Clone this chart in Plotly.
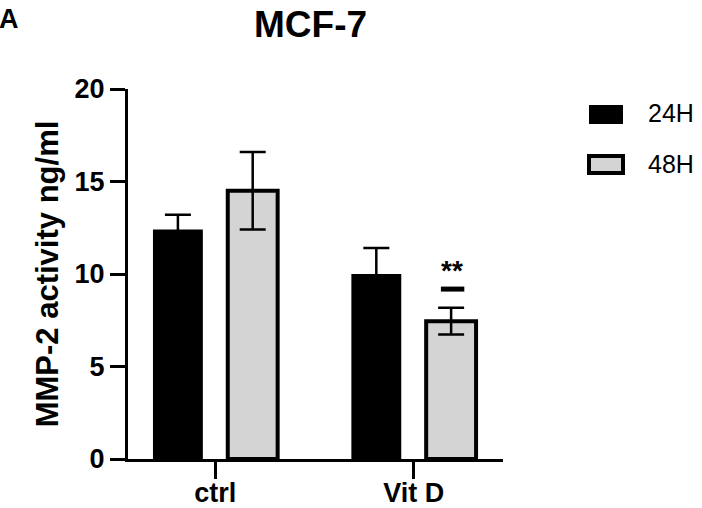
import plotly.graph_objects as go

categories = ["ctrl", "Vit D"]
series_names = ["24H", "48H"]
mean_24h = [12.4, 10.0]
err_24h = [0.8, 1.4]
mean_48h = [14.5, 7.45]
err_48h = [2.1, 0.72]
y_ticks = [0, 5, 10, 15, 20]
series_colors = ["black", "#d4d4d4"]

FONT = "Liberation Sans, Arial, sans-serif"

# plot-area geometry (pixels)
L, R, T, B = 128, 199, 89, 49
W, H = 702, 508
PW, PH = W - L - R, H - T - B


def px(xp):
    return (xp - L) / PW


def py(yp):
    return (H - B - yp) / PH


fig = go.Figure()
fig.add_trace(go.Bar(
    x=categories, y=mean_24h, name=series_names[0],
    marker=dict(color=series_colors[0], line=dict(color="black", width=0)),
    error_y=dict(type="data", array=err_24h, visible=True, color="black", thickness=2.5, width=13),
))
fig.add_trace(go.Bar(
    x=categories, y=mean_48h, name=series_names[1],
    marker=dict(color=series_colors[1], line=dict(color="black", width=4)),
    error_y=dict(type="data", array=err_48h, visible=True, color="black", thickness=2.5, width=13),
))

fig.update_layout(
    width=W, height=H,
    margin=dict(l=L, r=R, t=T, b=B, autoexpand=False),
    paper_bgcolor="white", plot_bgcolor="white",
    barmode="group", bargap=0.246, bargroupgap=0.333,
    showlegend=False,
    font=dict(family=FONT, color="black"),
)
fig.update_xaxes(
    range=[-0.44, 1.45], showline=True, linewidth=3, linecolor="black",
    ticks="outside", ticklen=17, tickwidth=3, tickcolor="black",
    tickfont=dict(size=27, family=FONT, weight="bold"), ticklabelstandoff=-9,
    showgrid=False, zeroline=False, automargin=False,
)
fig.update_yaxes(
    range=[0, 20], tickvals=y_ticks, showline=True, linewidth=3, linecolor="black",
    ticks="outside", ticklen=15, tickwidth=3, tickcolor="black",
    tickfont=dict(size=27, family=FONT, weight="bold"),
    showgrid=False, zeroline=False, automargin=False,
    title=dict(text="MMP-2 activity ng/ml", font=dict(size=31, family=FONT, weight="bold"), standoff=7),
)

# Significance marks above Vit D 48H bar
top = mean_48h[1] + err_48h[1]
fig.add_annotation(x="Vit D", y=top + 2.0, xref="x", yref="y", xshift=38,
                   text="<b>**</b>", showarrow=False, font=dict(size=28, family=FONT),
                   yanchor="middle")
fig.add_shape(type="rect", xref="x", yref="y", x0="Vit D", x1="Vit D",
              x0shift=0.137, x1shift=0.255, y0=top + 0.88, y1=top + 1.15,
              fillcolor="black", line=dict(width=0))

# Title and panel label
fig.add_annotation(x=px(310), y=py(2), xref="paper", yref="paper", text="<b>MCF-7</b>",
                   showarrow=False, xanchor="center", yanchor="top", font=dict(size=37, family=FONT))
fig.add_annotation(x=px(-3), y=py(2), xref="paper", yref="paper", text="<b>A</b>",
                   showarrow=False, xanchor="left", yanchor="top", font=dict(size=27, family=FONT))

# Custom legend
leg_boxes = [(105, 124), (156, 173)]
leg_text_y = [113, 164]
for i, name in enumerate(series_names):
    y0, y1 = leg_boxes[i]
    fig.add_shape(type="rect", xref="paper", yref="paper",
                  x0=px(589), x1=px(623), y0=py(y1), y1=py(y0),
                  fillcolor=series_colors[i], line=dict(color="black", width=4 if i else 0))
    fig.add_annotation(x=px(646), y=py(leg_text_y[i]), xref="paper", yref="paper", text=name,
                       showarrow=False, xanchor="left", yanchor="middle",
                       font=dict(size=25, family=FONT))

fig.write_html("out.html", config={"displayModeBar": False},
               post_script="document.body.style.margin='0';")
